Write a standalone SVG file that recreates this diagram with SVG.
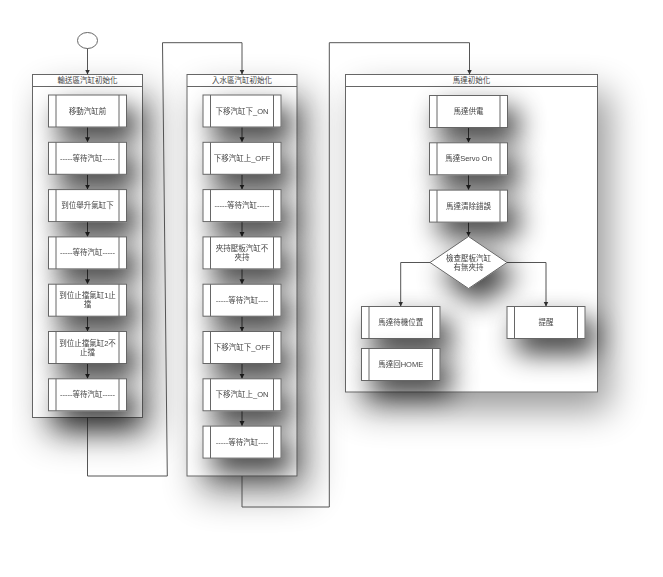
<svg xmlns="http://www.w3.org/2000/svg" width="663" height="577" viewBox="0 0 663 577">
<style>
text{font-family:"Liberation Sans","Noto Sans CJK TC",sans-serif;font-size:7.5px;fill:#444;text-anchor:middle;dominant-baseline:central}
.lane{fill:#fff;stroke:#666;stroke-width:1}
.box{fill:#fff;stroke:#666;stroke-width:1}
.in{stroke:#666;stroke-width:1;fill:none}
.a{fill:none;stroke:#555;stroke-width:1;marker-end:url(#ar)}
</style>
<defs>
<filter id="sh" filterUnits="userSpaceOnUse" x="0" y="0" width="663" height="577">
<feGaussianBlur in="SourceAlpha" stdDeviation="14"/>
<feOffset dx="10" dy="14"/>
<feComponentTransfer><feFuncA type="linear" slope="0.8"/></feComponentTransfer>
<feMerge><feMergeNode/><feMergeNode in="SourceGraphic"/></feMerge>
</filter>
<filter id="shl" filterUnits="userSpaceOnUse" x="0" y="0" width="663" height="577">
<feGaussianBlur in="SourceAlpha" stdDeviation="18"/>
<feOffset dx="12" dy="18"/>
<feComponentTransfer><feFuncA type="linear" slope="0.4"/></feComponentTransfer>
<feMerge><feMergeNode/><feMergeNode in="SourceGraphic"/></feMerge>
</filter>
<marker id="ar" markerUnits="userSpaceOnUse" markerWidth="6" markerHeight="6" refX="5" refY="3" orient="auto">
<path d="M0,0.5 L5,3 L0,5.5 z" fill="#333"/>
</marker>
</defs>
<rect width="663" height="577" fill="#fff"/>

<g id="lane1">
<rect class="lane" x="32.5" y="74.5" width="110" height="343" filter="url(#shl)"/>
<line class="in" x1="32.5" y1="86.5" x2="142.5" y2="86.5"/>
<text x="87.5" y="80.5">輸送區汽缸初始化</text>
</g>
<g id="lane2">
<rect class="lane" x="187" y="74.5" width="110" height="401.5" filter="url(#shl)"/>
<line class="in" x1="187" y1="86.5" x2="297" y2="86.5"/>
<text x="242" y="80.5">入水區汽缸初始化</text>
</g>
<g id="lane3">
<rect class="lane" x="345.5" y="74.5" width="252" height="317.5" filter="url(#shl)"/>
<line class="in" x1="345.5" y1="86.5" x2="597.5" y2="86.5"/>
<text x="471.5" y="80.5">馬達初始化</text>
</g>

<g id="start"><ellipse cx="87.5" cy="40.5" rx="10" ry="8" fill="#fff" stroke="#666"/></g>

<g id="connectors">
<line class="a" x1="87.5" y1="48.5" x2="87.5" y2="74.5"/>
<line class="a" x1="87.5" y1="127" x2="87.5" y2="142.3"/>
<line class="a" x1="87.5" y1="174.3" x2="87.5" y2="189.6"/>
<line class="a" x1="87.5" y1="221.6" x2="87.5" y2="236.9"/>
<line class="a" x1="87.5" y1="268.9" x2="87.5" y2="284.2"/>
<line class="a" x1="87.5" y1="316.2" x2="87.5" y2="331.5"/>
<line class="a" x1="87.5" y1="363.5" x2="87.5" y2="378.8"/>
<path class="a" d="M87.5,417.5 V476 H167.3 L162.5,42.7 H242 V74.5"/>
<line class="a" x1="242" y1="127" x2="242" y2="142.3"/>
<line class="a" x1="242" y1="174.3" x2="242" y2="189.6"/>
<line class="a" x1="242" y1="221.6" x2="242" y2="236.9"/>
<line class="a" x1="242" y1="268.9" x2="242" y2="284.2"/>
<line class="a" x1="242" y1="316.2" x2="242" y2="331.5"/>
<line class="a" x1="242" y1="363.5" x2="242" y2="378.8"/>
<line class="a" x1="242" y1="410.8" x2="242" y2="426.1"/>
<path class="a" d="M242,476 V507 H329.3 V42.7 H469.5 V74.5"/>
<line class="a" x1="468.5" y1="127.5" x2="468.5" y2="142.8"/>
<line class="a" x1="468.5" y1="174.8" x2="468.5" y2="190.1"/>
<line class="a" x1="468.5" y1="222.1" x2="468.5" y2="236.5"/>
<path class="a" d="M430,262.5 H400.7 V306.5"/>
<path class="a" d="M507,262.5 H546 V306.5"/>
</g>

<g id="n1" filter="url(#sh)"><rect class="box" x="48.5" y="95" width="78" height="32"/><path class="in" d="M56,95V127M119,95V127"/><text x="87.5" y="111">移動汽缸前</text></g>
<g id="n2" filter="url(#sh)"><rect class="box" x="48.5" y="142.3" width="78" height="32"/><path class="in" d="M56,142.3V174.3M119,142.3V174.3"/><text x="87.5" y="158.3">-----等待汽缸-----</text></g>
<g id="n3" filter="url(#sh)"><rect class="box" x="48.5" y="189.6" width="78" height="32"/><path class="in" d="M56,189.6V221.6M119,189.6V221.6"/><text x="87.5" y="205.6">到位舉升氣缸下</text></g>
<g id="n4" filter="url(#sh)"><rect class="box" x="48.5" y="236.9" width="78" height="32"/><path class="in" d="M56,236.9V268.9M119,236.9V268.9"/><text x="87.5" y="252.9">-----等待汽缸-----</text></g>
<g id="n5" filter="url(#sh)"><rect class="box" x="48.5" y="284.2" width="78" height="32"/><path class="in" d="M56,284.2V316.2M119,284.2V316.2"/><text x="87.5" y="295.7">到位止擋氣缸1止</text><text x="87.5" y="304.7">擋</text></g>
<g id="n6" filter="url(#sh)"><rect class="box" x="48.5" y="331.5" width="78" height="32"/><path class="in" d="M56,331.5V363.5M119,331.5V363.5"/><text x="87.5" y="343">到位止擋氣缸2不</text><text x="87.5" y="352">止擋</text></g>
<g id="n7" filter="url(#sh)"><rect class="box" x="48.5" y="378.8" width="78" height="32"/><path class="in" d="M56,378.8V410.8M119,378.8V410.8"/><text x="87.5" y="394.8">-----等待汽缸-----</text></g>

<g id="m1" filter="url(#sh)"><rect class="box" x="203" y="95" width="78" height="32"/><path class="in" d="M210.5,95V127M273.5,95V127"/><text x="242" y="111">下移汽缸下_ON</text></g>
<g id="m2" filter="url(#sh)"><rect class="box" x="203" y="142.3" width="78" height="32"/><path class="in" d="M210.5,142.3V174.3M273.5,142.3V174.3"/><text x="242" y="158.3">下移汽缸上_OFF</text></g>
<g id="m3" filter="url(#sh)"><rect class="box" x="203" y="189.6" width="78" height="32"/><path class="in" d="M210.5,189.6V221.6M273.5,189.6V221.6"/><text x="242" y="205.6">-----等待汽缸-----</text></g>
<g id="m4" filter="url(#sh)"><rect class="box" x="203" y="236.9" width="78" height="32"/><path class="in" d="M210.5,236.9V268.9M273.5,236.9V268.9"/><text x="242" y="248.4">夾持壓板汽缸不</text><text x="242" y="257.4">夾持</text></g>
<g id="m5" filter="url(#sh)"><rect class="box" x="203" y="284.2" width="78" height="32"/><path class="in" d="M210.5,284.2V316.2M273.5,284.2V316.2"/><text x="242" y="300.2">-----等待汽缸----</text></g>
<g id="m6" filter="url(#sh)"><rect class="box" x="203" y="331.5" width="78" height="32"/><path class="in" d="M210.5,331.5V363.5M273.5,331.5V363.5"/><text x="242" y="347.5">下移汽缸下_OFF</text></g>
<g id="m7" filter="url(#sh)"><rect class="box" x="203" y="378.8" width="78" height="32"/><path class="in" d="M210.5,378.8V410.8M273.5,378.8V410.8"/><text x="242" y="394.8">下移汽缸上_ON</text></g>
<g id="m8" filter="url(#sh)"><rect class="box" x="203" y="426.1" width="78" height="32"/><path class="in" d="M210.5,426.1V458.1M273.5,426.1V458.1"/><text x="242" y="442.1">-----等待汽缸----</text></g>

<g id="k1" filter="url(#sh)"><rect class="box" x="429.5" y="95.5" width="78" height="32"/><path class="in" d="M437,95.5V127.5M500,95.5V127.5"/><text x="468.5" y="111.5">馬達供電</text></g>
<g id="k2" filter="url(#sh)"><rect class="box" x="429.5" y="142.8" width="78" height="32"/><path class="in" d="M437,142.8V174.8M500,142.8V174.8"/><text x="468.5" y="158.8">馬達Servo On</text></g>
<g id="k3" filter="url(#sh)"><rect class="box" x="429.5" y="190.1" width="78" height="32"/><path class="in" d="M437,190.1V222.1M500,190.1V222.1"/><text x="468.5" y="206.1">馬達清除錯誤</text></g>
<g id="k4" filter="url(#sh)"><polygon points="468.5,236.5 507,262.5 468.5,288.5 430,262.5" fill="#fff" stroke="#666"/><text x="468.5" y="258">檢查壓板汽缸</text><text x="468.5" y="267">有無夾持</text></g>
<g id="k5" filter="url(#sh)"><rect class="box" x="361.5" y="306.5" width="78.5" height="32"/><path class="in" d="M369,306.5V338.5M432.5,306.5V338.5"/><text x="400.7" y="322.5">馬達待機位置</text></g>
<g id="k6" filter="url(#sh)"><rect class="box" x="361.5" y="348.5" width="78.5" height="32"/><path class="in" d="M369,348.5V380.5M432.5,348.5V380.5"/><text x="400.7" y="364.5">馬達回HOME</text></g>
<g id="k7" filter="url(#sh)"><rect class="box" x="507" y="306.5" width="78" height="32"/><path class="in" d="M514.5,306.5V338.5M577.5,306.5V338.5"/><text x="546" y="322.5">提醒</text></g>
</svg>
